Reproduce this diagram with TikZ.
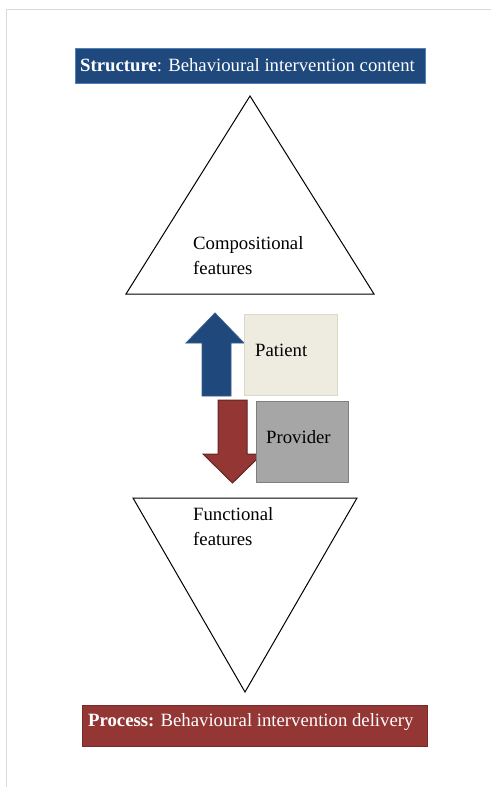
\documentclass[tikz,border=0pt]{standalone}
\usepackage{fontspec}
\setmainfont{Liberation Serif}
\definecolor{bannerblue}{HTML}{1F497D}
\definecolor{bannerblueedge}{HTML}{4F81BD}
\definecolor{bannerred}{HTML}{943634}
\definecolor{bannerrededge}{HTML}{632523}
\definecolor{arrowblueedge}{HTML}{385D8A}
\definecolor{patientfill}{HTML}{EEECE1}
\definecolor{patientedge}{HTML}{DDD9C3}
\definecolor{providerfill}{HTML}{A6A6A6}
\definecolor{provideredge}{HTML}{7F7F7F}
\definecolor{pageedge}{HTML}{D9D9D9}
\tikzset{
  label text/.style={anchor=base west, inner sep=0pt, font=\fontsize{18.8}{25}\selectfont},
  banner/.style={line width=0.8bp},
  triangle edge/.style={draw=black, line width=1bp, line join=miter},
}
\begin{document}
\begin{tikzpicture}[x=1bp, y=-1bp]
\useasboundingbox (0,0) rectangle (491,787);
\fill[white] (0,0) rectangle (491,787);
% page frame
\draw[pageedge, line width=1.6bp] (6.5,787) -- (6.5,9.5) -- (491,9.5);

% top banner
\draw[banner, fill=bannerblue, draw=bannerblueedge] (75,48) rectangle (425,83);
\node[label text, text=white] (structure) at (80,72) {\textbf{Structure}: Behavioural intervention content};

% upper triangle (node base is the last line's baseline)
\draw[triangle edge] (250,96) -- (374,294) -- (126,294) -- cycle;
\node[label text, align=left] (comp) at (193,274) {Compositional\\features};

% upward arrow and patient box
\draw[fill=bannerblue, draw=arrowblueedge, line width=0.8bp]
  (215,313) -- (244,343) -- (231,343) -- (231,396) -- (202,396) -- (202,343) -- (186,343) -- cycle;
\draw[fill=patientfill, draw=patientedge, line width=1bp] (244,314) rectangle (337,395);
\node[label text] (patient) at (255,356) {Patient};

% downward arrow and provider box
\draw[fill=bannerred, draw=bannerrededge, line width=1bp]
  (218,400) -- (247,400) -- (247,454) -- (262,454) -- (232.5,483) -- (203,454) -- (218,454) -- cycle;
\draw[fill=providerfill, draw=provideredge, line width=1bp] (256,401) rectangle (348,482);
\node[label text] (provider) at (266,443) {Provider};

% lower triangle
\draw[triangle edge] (133,498) -- (357,498) -- (245,692) -- cycle;
\node[label text, align=left] (func) at (193,545) {Functional\\features};

% bottom banner
\draw[banner, fill=bannerred, draw=bannerred!80!black] (82,705) rectangle (427,746);
\node[label text, text=white] (process) at (88,726) {\textbf{Process:} Behavioural intervention delivery};
\end{tikzpicture}
\end{document}
